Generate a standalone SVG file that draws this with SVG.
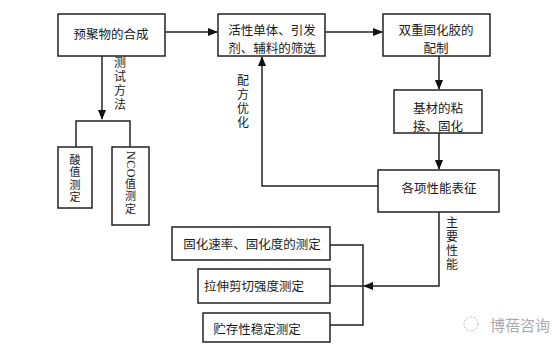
<svg xmlns="http://www.w3.org/2000/svg" width="558" height="348" viewBox="0 0 558 348">
<style>
  .box{fill:#fff;stroke:#222;stroke-width:1.5}
  .t{font-family:"Noto Sans CJK SC","Liberation Serif",serif;font-size:12.5px;fill:#1a1a1a;text-anchor:middle;dominant-baseline:central}
  .vt{font-family:"Noto Sans CJK SC","Liberation Serif",serif;font-size:12px;fill:#1a1a1a;writing-mode:vertical-rl;text-anchor:start;letter-spacing:2px}
  .vs{font-size:11px;letter-spacing:1.5px}
  .ln{fill:none;stroke:#222;stroke-width:1.5}
  .wm{font-family:"Noto Sans CJK SC",sans-serif;font-size:15px;fill:#aaa;dominant-baseline:central}
</style>
<defs>
  <marker id="ah" markerWidth="10" markerHeight="8" refX="9" refY="4" orient="auto" markerUnits="userSpaceOnUse">
    <path d="M0,0 L10,4 L0,8 Z" fill="#111"/>
  </marker>
</defs>
<rect width="558" height="348" fill="#fff"/>
<g id="connectors">
  <line class="ln" x1="165" y1="32" x2="217" y2="32" marker-end="url(#ah)"/>
  <line class="ln" x1="325" y1="32" x2="382" y2="32" marker-end="url(#ah)"/>
  <line class="ln" x1="439" y1="56" x2="439" y2="89" marker-end="url(#ah)"/>
  <line class="ln" x1="439" y1="133" x2="439" y2="169" marker-end="url(#ah)"/>
  <polyline class="ln" points="378,186 262,186 262,57" marker-end="url(#ah)"/>
  <line class="ln" x1="102" y1="56" x2="102" y2="119" marker-end="url(#ah)"/>
  <polyline class="ln" points="76,147 76,121 130,121 130,147"/>
  <polyline class="ln" points="439,212 439,286 364,286" marker-end="url(#ah)"/>
  <polyline class="ln" points="330,245 363,245 363,325 330,325"/>
  <line class="ln" x1="330" y1="286" x2="363" y2="286"/>
  <text class="vt" x="120" y="56">测试方法</text>
  <text class="vt" x="243" y="74">配方优化</text>
  <text class="vt" x="452" y="216">主要性能</text>
</g>
<g id="n1"><rect class="box" x="58" y="14" width="107" height="42"/><text class="t" x="111" y="33">预聚物的合成</text></g>
<g id="n2"><rect class="box" x="218" y="14" width="107" height="42"/><text class="t" x="272" y="29">活性单体、引发<tspan x="272" dy="18">剂、辅料的筛选</tspan></text></g>
<g id="n3"><rect class="box" x="383" y="14" width="107" height="42"/><text class="t" x="436" y="29">双重固化胶的<tspan x="436" dy="18">配制</tspan></text></g>
<g id="n4"><rect class="box" x="394" y="90" width="88" height="43"/><text class="t" x="438" y="107">基材的粘<tspan x="438" dy="18">接、固化</tspan></text></g>
<g id="n5"><rect class="box" x="378" y="170" width="121" height="42"/><text class="t" x="439" y="187">各项性能表征</text></g>
<g id="n6"><rect class="box" x="58" y="147" width="34" height="61"/>
  <text class="vt vs" x="75" y="154">酸值测定</text></g>
<g id="n7"><rect class="box" x="112" y="147" width="37" height="78"/>
  <text class="vt vs" x="130.5" y="151"><tspan style="font-family:'Liberation Serif',serif;font-size:12px;letter-spacing:0.5px">NCO</tspan>值测定</text></g>
<g id="n8"><rect class="box" x="172" y="227" width="158" height="33"/><text class="t" x="252" y="243">固化速率、固化度的测定</text></g>
<g id="n9"><rect class="box" x="198" y="269" width="132" height="34"/><text class="t" x="254" y="285">拉伸剪切强度测定</text></g>
<g id="n10"><rect class="box" x="203" y="313" width="127" height="29"/><text class="t" x="257" y="328">贮存性稳定测定</text></g>
<g id="wm">
  <circle cx="471" cy="324" r="7" fill="none" stroke="#bbb" stroke-width="1" stroke-dasharray="2,1.5"/>
  <text class="wm" x="490" y="324">博蓓咨询</text>
</g>
</svg>
